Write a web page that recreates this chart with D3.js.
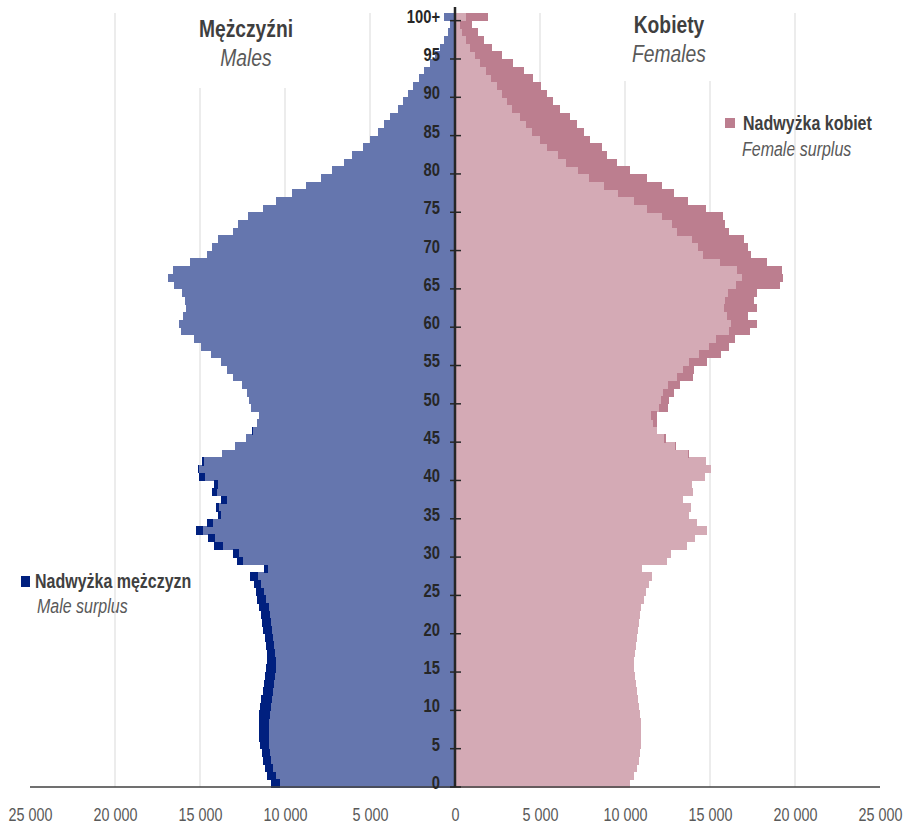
<!DOCTYPE html>
<html>
<head>
<meta charset="utf-8">
<script src="https://cdn.jsdelivr.net/npm/d3@7"></script>
<style>
  html, body { margin: 0; padding: 0; background: #ffffff; }
  svg { display: block; }
</style>
</head>
<body>
<svg id="chart" width="906" height="827"></svg>
<script>
// ---- DATA ----
const ages = d3.range(0, 101);                 // 0 ... 99, 100 = "100+"
const ageLabels = ages.map(a => a === 100 ? "100+" : String(a));
const yTickAges = d3.range(0, 101, 5);
const xTickValues = [-25000, -20000, -15000, -10000, -5000, 0, 5000, 10000, 15000, 20000, 25000];
const gridValues = [-20000, -15000, -10000, -5000, 5000, 10000, 15000, 20000];

const males = [
  10840, 11080, 11180, 11270, 11370, 11470, 11510, 11550, 11550, 11510,
  11470, 11390, 11310, 11240, 11180, 11120, 11080, 11080, 11120, 11180,
  11270, 11330, 11430, 11510, 11670, 11710, 11820, 12060, 11220, 12840,
  13040, 14160, 14550, 15240, 14610, 13970, 14080, 13780, 14310, 14200,
  15080, 15100, 14900, 13700, 12940, 12290, 11960, 11630, 11510, 12020,
  12100, 12250, 12550, 13040, 13430, 13780, 14370, 14960, 15350, 16140,
  16220, 16020, 15840, 15880, 16080, 16530, 16860, 16610, 15590, 14610,
  14310, 13920, 13080, 12740, 12160, 11270, 10530, 9570, 8760, 7900,
  7210, 6510, 6080, 5430, 5000, 4510, 4160, 3820, 3330, 3080,
  2750, 2450, 2140, 1820, 1470, 1180, 880, 640, 440, 320,
  620
];
const females = [
  10290, 10550, 10690, 10820, 10880, 10920, 10920, 10940, 10920, 10880,
  10840, 10780, 10730, 10650, 10590, 10550, 10550, 10590, 10630, 10690,
  10750, 10820, 10880, 10940, 11120, 11230, 11400, 11600, 11010, 12480,
  12700, 13650, 14120, 14830, 14230, 13780, 13890, 13410, 14020, 13970,
  14720, 15040, 14760, 13780, 13000, 12410, 11900, 11900, 11860, 12550,
  12610, 12880, 13240, 13980, 14060, 14840, 15630, 16140, 16470, 17350,
  17780, 17250, 17750, 17590, 17780, 19120, 19310, 19220, 18370, 17390,
  17250, 17000, 16140, 15900, 15780, 14760, 13730, 12900, 12160, 11270,
  10290, 9510, 8920, 8670, 7940, 7610, 7200, 6760, 6180, 5780,
  5430, 5040, 4610, 4060, 3390, 2750, 2200, 1700, 1340, 1000,
  1920
];

const titles = { male: "Mężczyźni", maleEn: "Males", female: "Kobiety", femaleEn: "Females" };
const legendMale = ["Nadwyżka mężczyzn", "Male surplus"];
const legendFemale = ["Nadwyżka kobiet", "Female surplus"];

const COLORS = { male: "#6576ae", maleSurplus: "#00207f", female: "#d4aab5", femaleSurplus: "#bc7e8f" };
const FONT = '"Liberation Sans", Arial, sans-serif';
const NARROW = 0.82;   // Arial-Narrow-like horizontal compression

// ---- table built from arrays ----
const rows = ages.map((a, i) => {
  const m = males[i], f = females[i], c = Math.min(m, f);
  return { age: a, label: ageLabels[i], common: c, mSur: Math.max(0, m - f), fSur: Math.max(0, f - m) };
});

// ---- scales ----
const svg = d3.select("#chart");
const x = d3.scaleLinear().domain([-25000, 25000]).range([30, 880]);
const y = d3.scaleBand().domain(ages).range([787, 13]).paddingInner(0).paddingOuter(0);
const bw = y.bandwidth();

function ntext(g, tx, ty, str, size, opts = {}) {
  const t = g.append("text")
    .attr("transform", `translate(${tx},${ty}) scale(${NARROW},1)`)
    .attr("font-family", FONT).attr("font-size", size)
    .attr("fill", opts.fill || "#404040")
    .text(str);
  if (opts.bold) t.attr("font-weight", "bold");
  if (opts.italic) t.attr("font-style", "italic");
  if (opts.anchor) t.attr("text-anchor", opts.anchor);
  return t;
}

// ---- legends (behind gridlines) ----
const lg = svg.append("g");
lg.append("rect").attr("x", 21).attr("y", 576).attr("width", 9).attr("height", 11).attr("fill", COLORS.maleSurplus);
ntext(lg, 35, 588, legendMale[0], 19.5, { bold: true, fill: "#404040" });
ntext(lg, 37, 613, legendMale[1], 19.5, { italic: true, fill: "#595959" });
lg.append("rect").attr("x", 725).attr("y", 118).attr("width", 10).attr("height", 10).attr("fill", COLORS.femaleSurplus);
ntext(lg, 743, 130, legendFemale[0], 19.5, { bold: true, fill: "#404040" });
ntext(lg, 742, 156, legendFemale[1], 19.5, { italic: true, fill: "#595959" });

// ---- gridlines ----
svg.append("g").selectAll("line").data(gridValues).join("line")
  .attr("x1", d => x(d)).attr("x2", d => x(d))
  .attr("y1", 13).attr("y2", 787)
  .attr("stroke", "#d9d9d9").attr("stroke-width", 1);

// ---- titles with white boxes ----
svg.append("rect").attr("x", 165).attr("y", 0).attr("width", 160).attr("height", 88).attr("fill", "#fff");
svg.append("rect").attr("x", 595).attr("y", 0).attr("width", 150).attr("height", 81).attr("fill", "#fff");
const tg = svg.append("g");
ntext(tg, 246, 37, titles.male, 23.5, { bold: true, anchor: "middle", fill: "#3f3f3f" });
ntext(tg, 246, 66, titles.maleEn, 23.5, { italic: true, anchor: "middle", fill: "#595959" });
ntext(tg, 669, 33, titles.female, 23.5, { bold: true, anchor: "middle", fill: "#3f3f3f" });
ntext(tg, 669, 62, titles.femaleEn, 23.5, { italic: true, anchor: "middle", fill: "#595959" });

// ---- bars ----
const bars = svg.append("g").attr("shape-rendering", "crispEdges");
bars.selectAll(".mc").data(rows).join("rect").attr("class", "mc")
  .attr("x", d => x(-d.common)).attr("width", d => x(0) - x(-d.common))
  .attr("y", d => y(d.age)).attr("height", bw + 0.5).attr("fill", COLORS.male);
bars.selectAll(".ms").data(rows.filter(d => d.mSur > 0)).join("rect").attr("class", "ms")
  .attr("x", d => x(-d.common - d.mSur)).attr("width", d => x(-d.common) - x(-d.common - d.mSur))
  .attr("y", d => y(d.age)).attr("height", bw + 0.5).attr("fill", COLORS.maleSurplus);
bars.selectAll(".fc").data(rows).join("rect").attr("class", "fc")
  .attr("x", x(0)).attr("width", d => x(d.common) - x(0))
  .attr("y", d => y(d.age)).attr("height", bw + 0.5).attr("fill", COLORS.female);
bars.selectAll(".fs").data(rows.filter(d => d.fSur > 0)).join("rect").attr("class", "fs")
  .attr("x", d => x(d.common)).attr("width", d => x(d.common + d.fSur) - x(d.common))
  .attr("y", d => y(d.age)).attr("height", bw + 0.5).attr("fill", COLORS.femaleSurplus);

// ---- x axis ----
const fmt = d => d3.format(",")(Math.abs(d)).replace(/,/g, " ");
const xAxis = svg.append("g").attr("transform", "translate(0,787)")
  .call(d3.axisBottom(x).tickValues(xTickValues).tickFormat(fmt).tickSize(0).tickPadding(22));
xAxis.select(".domain").remove();
xAxis.selectAll("text").attr("font-family", FONT).attr("font-size", 17.5).attr("fill", "#595959")
  .attr("transform", `scale(${NARROW},1)`);
svg.append("line").attr("x1", x(-25000)).attr("x2", x(25000)).attr("y1", 787).attr("y2", 787)
  .attr("stroke", "#404040").attr("stroke-width", 1.5);

// ---- y axis (centre) ----
const yAxis = svg.append("g").attr("transform", `translate(${x(0)},0)`)
  .call(d3.axisLeft(y).tickValues(yTickAges).tickFormat(a => ageLabels[a]).tickSize(0).tickPadding(15 / NARROW));
yAxis.select(".domain").remove();
yAxis.selectAll("text").attr("font-family", FONT).attr("font-size", 18).attr("font-weight", "bold").attr("fill", "#262626")
  .attr("transform", `scale(${NARROW},1)`);
svg.append("g").selectAll("line").data(yTickAges).join("line")
  .attr("x1", x(0) - 5).attr("x2", x(0) + 6)
  .attr("y1", a => y(a) + bw).attr("y2", a => y(a) + bw)
  .attr("stroke", "#262626").attr("stroke-width", 1.5);
svg.append("line").attr("x1", x(0)).attr("x2", x(0)).attr("y1", 7).attr("y2", 787)
  .attr("stroke", "#262626").attr("stroke-width", 2.5);
</script>
</body>
</html>
